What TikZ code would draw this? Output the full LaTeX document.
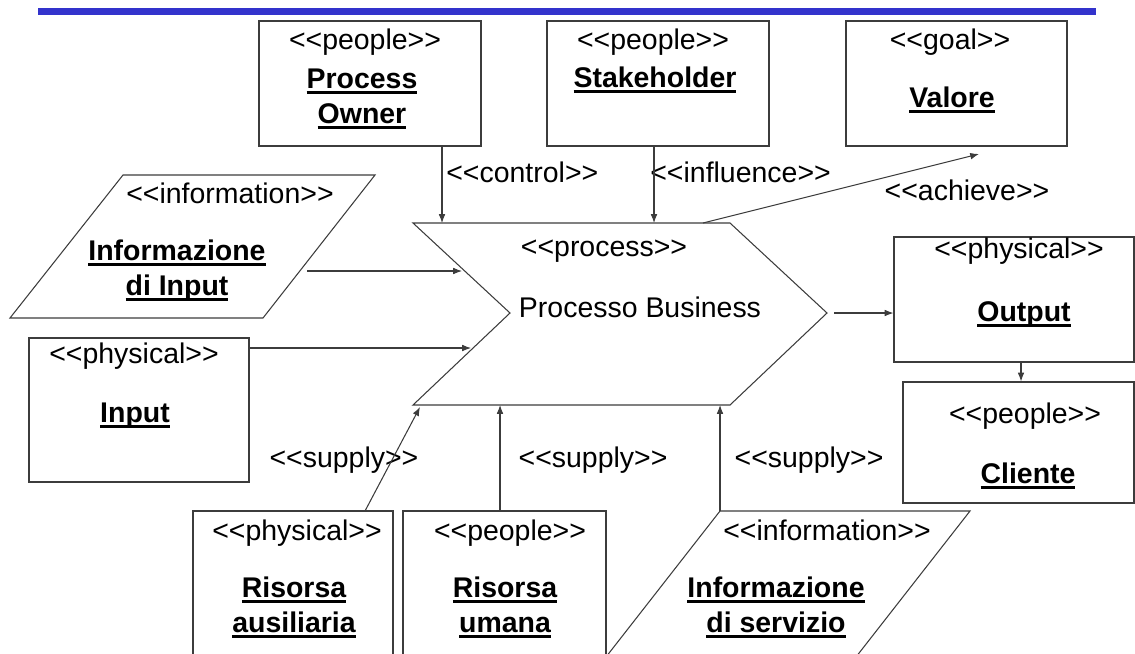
\documentclass[tikz,border=0pt]{standalone}
\usepackage{fontspec}
\setmainfont{Liberation Sans}
\usetikzlibrary{arrows.meta,fit}

\definecolor{barblue}{RGB}{51,51,204}
\definecolor{linegray}{RGB}{60,60,60}

% stereotype text and underlined bold names
\newcommand{\stype}[1]{<\kern0pt<#1>\kern0pt>}
\newcommand{\ulbold}[1]{\setbox0\hbox{\bfseries #1}\rlap{\smash{\rule[-3.4pt]{\wd0}{1.9pt}}}\box0}

\begin{document}
\begin{tikzpicture}[x=0.02cm, y=-0.02cm, >={Latex[length=5pt,width=3.8pt]},
    every node/.style={font=\fontsize{16.2}{19.84}\selectfont, inner sep=0pt}]
    \tikzstyle{box}=[draw=linegray, line width=0.6pt, rectangle, inner sep=0pt]
    \tikzstyle{shape line}=[draw=linegray, line width=0.6pt]
    \tikzstyle{stereo}=[anchor=base]
    \tikzstyle{title}=[anchor=base, align=center]
    \tikzstyle{arr}=[draw=linegray, line width=0.6pt, ->]

    \useasboundingbox (0,0) rectangle (1135,653);
    \clip (0,0) rectangle (1135,653);
    \fill[barblue] (38,8) rectangle (1096,15);

    % boxes
    \node[box, fit={(259,21) (481,146)}] (owner) {};
    \node[box, fit={(547,21) (769,146)}] (stake) {};
    \node[box, fit={(846,21) (1067,146)}] (valore) {};
    \node[box, fit={(29,338) (249,482)}] (input) {};
    \node[box, fit={(894,237) (1134,362)}] (output) {};
    \node[box, fit={(903,382) (1134,503)}] (cliente) {};
    \node[box, fit={(193,511) (393,690)}] (aux) {};
    \node[box, fit={(403,511) (606,690)}] (umana) {};

    % information shapes
    \draw[shape line] (123,175) coordinate (iiNW) -- (375,175) coordinate (iiNE)
        -- (263,318) coordinate (iiSE) -- (10,318) coordinate (iiSW) -- cycle;
    \draw[shape line] (720,511) coordinate (isNW) -- (970,511) coordinate (isNE)
        -- (838,680) coordinate (isSE) -- (588,680) coordinate (isSW) -- cycle;

    % process
    \draw[shape line] (413,223) coordinate (pNW) -- (730,223) coordinate (pNE)
        -- (827,313) coordinate (pTip) -- (730,405) coordinate (pSE)
        -- (413,405) coordinate (pSW) -- (510,313) coordinate (pNotch) -- cycle;

    % texts (two-line names sit on the baseline of their last line)
    \node[stereo] (ownerS) at (365,49) {\stype{people}};
    \node[title] (ownerT) at (362,123) {\ulbold{Process}\\\ulbold{Owner}};
    \node[stereo] (stakeS) at (653,49) {\stype{people}};
    \node[title] (stakeT) at (655,87) {\ulbold{Stakeholder}};
    \node[stereo] (valoreS) at (950,49) {\stype{goal}};
    \node[title] (valoreT) at (952,107) {\ulbold{Valore}};
    \node[stereo] (infoInS) at (230,203) {\stype{information}};
    \node[title] (infoInT) at (177,295) {\ulbold{Informazione}\\\ulbold{di Input}};
    \node[stereo] (inputS) at (134,363) {\stype{physical}};
    \node[title] (inputT) at (135,422) {\ulbold{Input}};
    \node[stereo] (procS) at (604,256) {\stype{process}};
    \node[stereo] (procT) at (640,317) {Processo Business};
    \node[stereo] (outputS) at (1019,258) {\stype{physical}};
    \node[title] (outputT) at (1024,321) {\ulbold{Output}};
    \node[stereo] (clienteS) at (1025,423) {\stype{people}};
    \node[title] (clienteT) at (1028,483) {\ulbold{Cliente}};
    \node[stereo] (auxS) at (297,540) {\stype{physical}};
    \node[title] (auxT) at (294,632) {\ulbold{Risorsa}\\\ulbold{ausiliaria}};
    \node[stereo] (umanaS) at (510,540) {\stype{people}};
    \node[title] (umanaT) at (505,632) {\ulbold{Risorsa}\\\ulbold{umana}};
    \node[stereo] (infoSvS) at (827,540) {\stype{information}};
    \node[title] (infoSvT) at (776,632) {\ulbold{Informazione}\\\ulbold{di servizio}};

    % connector labels
    \node[anchor=base west] (ctrlL) at (446,182) {\stype{control}};
    \node[anchor=base west] (inflL) at (650,182) {\stype{influence}};
    \node[stereo] (achL) at (967,200) {\stype{achieve}};
    \node[stereo] (sup1L) at (344,467) {\stype{supply}};
    \node[stereo] (sup2L) at (593,467) {\stype{supply}};
    \node[stereo] (sup3L) at (809,467) {\stype{supply}};

    % connectors
    \coordinate (ctrl) at (442,223);
    \coordinate (infl) at (654,223);
    \coordinate (achA) at (703,223);
    \coordinate (achB) at (979,154);
    \coordinate (iiOut) at (307,271);
    \coordinate (iiIn) at (462,271);
    \coordinate (inIn) at (471,348);
    \coordinate (oc) at (1021,370);
    \coordinate (s1A) at (365,511);
    \coordinate (s1B) at (420,407);
    \coordinate (s2) at (500,405);

    \draw[arr] (owner.south -| ctrl) -- (ctrl);
    \draw[arr] (stake.south -| infl) -- (infl);
    \draw[arr] (achA) -- (achB);
    \draw[arr] (iiOut) -- (iiIn);
    \draw[arr] (input.east |- inIn) -- (inIn);
    \draw[arr, shorten <=4pt] (pTip) -- (output.west |- pTip);
    \draw[arr] (output.south -| oc) -- (cliente.north -| oc);
    \draw[arr] (s1A) -- (s1B);
    \draw[arr] (umana.north -| s2) -- (s2);
    \draw[arr] (isNW) -- (isNW |- pSW);
\end{tikzpicture}
\end{document}
